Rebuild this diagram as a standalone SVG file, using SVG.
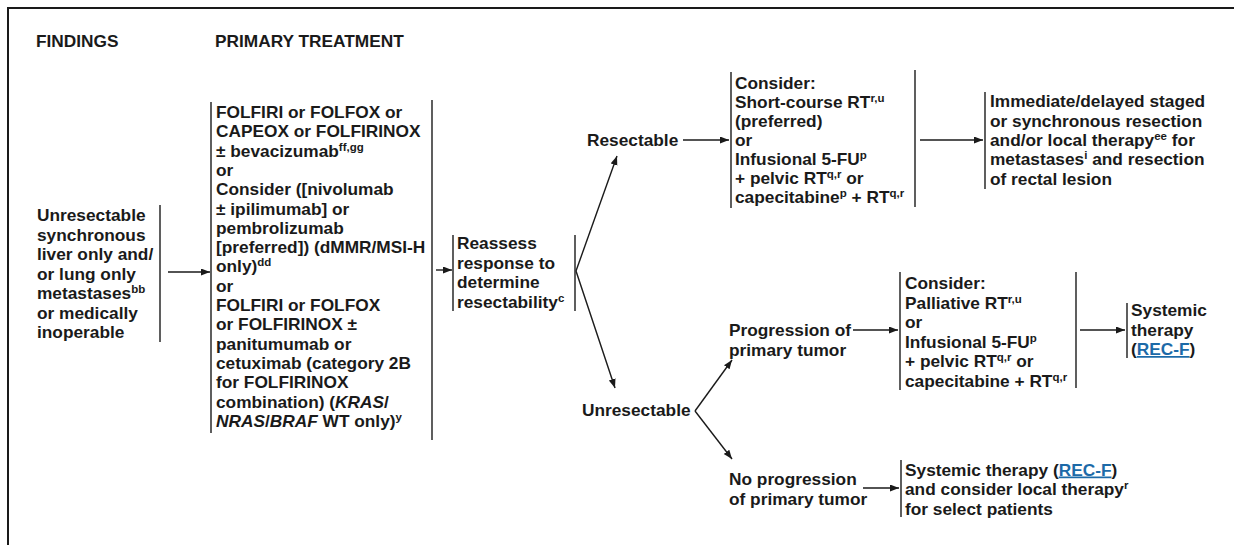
<svg xmlns="http://www.w3.org/2000/svg" width="1234" height="545" viewBox="0 0 1234 545">
<defs>
<style>
text{font-family:"Liberation Sans",Arial,Helvetica,sans-serif;font-weight:bold;font-size:17.3px;fill:#1a1a1a}
.s{font-size:11.5px}
.i{font-style:italic}
.lnk{fill:#1c6aa8;text-decoration:underline}
.bar{stroke:#1a1a1a;stroke-width:1.4;fill:none}
.frame{stroke:#1a1a1a;stroke-width:2;fill:none}
.c{stroke:#1a1a1a;stroke-width:1.4;fill:none;marker-end:url(#ah)}
</style>
<marker id="ah" markerUnits="userSpaceOnUse" markerWidth="10" markerHeight="8" refX="9" refY="3.5" orient="auto">
<path d="M0,0 L9,3.5 L0,7 z" fill="#1a1a1a"/>
</marker>
</defs>
<rect width="1234" height="545" fill="#ffffff"/>
<path class="frame" d="M8,545 V8 H1234"/>

<g id="headers">
<text x="36" y="47">FINDINGS</text>
<text x="215" y="47">PRIMARY TREATMENT</text>
</g>

<g id="findings">
<text x="37" y="221">Unresectable</text>
<text x="37" y="240.5">synchronous</text>
<text x="37" y="260">liver only and/</text>
<text x="37" y="279.5">or lung only</text>
<text x="37" y="299">metastases<tspan class="s" dy="-6">bb</tspan></text>
<text x="37" y="318.5">or medically</text>
<text x="37" y="338">inoperable</text>
<line class="bar" x1="160" y1="205" x2="160" y2="342"/>
</g>

<g id="primary-treatment">
<line class="bar" x1="211" y1="102" x2="211" y2="433"/>
<line class="bar" x1="432" y1="100" x2="432" y2="440"/>
<text x="216" y="118">FOLFIRI or FOLFOX or</text>
<text x="216" y="137.3">CAPEOX or FOLFIRINOX</text>
<text x="216" y="156.6">± bevacizumab<tspan class="s" dy="-6">ff,gg</tspan></text>
<text x="216" y="175.9">or</text>
<text x="216" y="195.2">Consider ([nivolumab</text>
<text x="216" y="214.5">± ipilimumab] or</text>
<text x="216" y="233.8">pembrolizumab</text>
<text x="216" y="253.1">[preferred]) (dMMR/MSI-H</text>
<text x="216" y="272.4">only)<tspan class="s" dy="-6">dd</tspan></text>
<text x="216" y="291.7">or</text>
<text x="216" y="311">FOLFIRI or FOLFOX</text>
<text x="216" y="330.3">or FOLFIRINOX ±</text>
<text x="216" y="349.6">panitumumab or</text>
<text x="216" y="368.9">cetuximab (category 2B</text>
<text x="216" y="388.2">for FOLFIRINOX</text>
<text x="216" y="407.5">combination) (<tspan class="i">KRAS</tspan>/</text>
<text x="216" y="426.8"><tspan class="i">NRAS</tspan>/<tspan class="i">BRAF</tspan> WT only)<tspan class="s" dy="-6">y</tspan></text>
</g>

<g id="reassess">
<line class="bar" x1="453" y1="235" x2="453" y2="311"/>
<line class="bar" x1="575" y1="235" x2="575" y2="311"/>
<text x="457" y="249">Reassess</text>
<text x="457" y="268.5">response to</text>
<text x="457" y="288">determine</text>
<text x="457" y="307.5">resectability<tspan class="s" dy="-6">c</tspan></text>
</g>

<g id="resectable">
<text x="587" y="146">Resectable</text>
</g>

<g id="resectable-rt">
<line class="bar" x1="731" y1="72" x2="731" y2="208"/>
<line class="bar" x1="915" y1="70" x2="915" y2="207"/>
<text x="735" y="89">Consider:</text>
<text x="735" y="108">Short-course RT<tspan class="s" dy="-6">r,u</tspan></text>
<text x="735" y="127">(preferred)</text>
<text x="735" y="146">or</text>
<text x="735" y="165">Infusional 5-FU<tspan class="s" dy="-6">p</tspan></text>
<text x="735" y="184">+ pelvic RT<tspan class="s" dy="-6">q,r</tspan><tspan dy="6"> or</tspan></text>
<text x="735" y="203">capecitabine<tspan class="s" dy="-6">p</tspan><tspan dy="6"> + RT</tspan><tspan class="s" dy="-6">q,r</tspan></text>
</g>

<g id="resection">
<line class="bar" x1="985" y1="92" x2="985" y2="189"/>
<text x="990" y="107.4">Immediate/delayed staged</text>
<text x="990" y="126.7">or synchronous resection</text>
<text x="990" y="146">and/or local therapy<tspan class="s" dy="-6">ee</tspan><tspan dy="6"> for</tspan></text>
<text x="990" y="165.3">metastases<tspan class="s" dy="-6">i</tspan><tspan dy="6"> and resection</tspan></text>
<text x="990" y="184.6">of rectal lesion</text>
</g>

<g id="unresectable">
<text x="582" y="416">Unresectable</text>
</g>

<g id="progression">
<text x="729" y="336">Progression of</text>
<text x="729" y="355.5">primary tumor</text>
</g>

<g id="palliative-rt">
<line class="bar" x1="900" y1="272" x2="900" y2="390"/>
<line class="bar" x1="1076" y1="272" x2="1076" y2="388"/>
<text x="905" y="289">Consider:</text>
<text x="905" y="308.5">Palliative RT<tspan class="s" dy="-6">r,u</tspan></text>
<text x="905" y="328">or</text>
<text x="905" y="347.5">Infusional 5-FU<tspan class="s" dy="-6">p</tspan></text>
<text x="905" y="367">+ pelvic RT<tspan class="s" dy="-6">q,r</tspan><tspan dy="6"> or</tspan></text>
<text x="905" y="386.5">capecitabine + RT<tspan class="s" dy="-6">q,r</tspan></text>
</g>

<g id="systemic-1">
<line class="bar" x1="1127" y1="303" x2="1127" y2="358"/>
<text x="1131" y="316">Systemic</text>
<text x="1131" y="335.5">therapy</text>
<text x="1131" y="355">(<tspan class="lnk">REC-F</tspan>)</text>
</g>

<g id="no-progression">
<text x="729" y="485">No progression</text>
<text x="729" y="504.5">of primary tumor</text>
</g>

<g id="systemic-2">
<line class="bar" x1="901" y1="460" x2="901" y2="517"/>
<text x="905" y="475.5">Systemic therapy (<tspan class="lnk">REC-F</tspan>)</text>
<text x="905" y="495">and consider local therapy<tspan class="s" dy="-6">r</tspan></text>
<text x="905" y="514.5">for select patients</text>
</g>

<g id="connectors">
<line class="c" x1="168" y1="272" x2="210" y2="272"/>
<line class="c" x1="436" y1="270" x2="452" y2="270"/>
<line class="c" x1="576" y1="271" x2="617" y2="156"/>
<line class="c" x1="576" y1="271" x2="615" y2="388"/>
<line class="c" x1="683" y1="140" x2="729" y2="140"/>
<line class="c" x1="920" y1="140" x2="983" y2="140"/>
<line class="c" x1="695" y1="411" x2="732" y2="360"/>
<line class="c" x1="695" y1="411" x2="732" y2="459"/>
<line class="c" x1="853" y1="330" x2="898" y2="330"/>
<line class="c" x1="1080" y1="330" x2="1125" y2="330"/>
<line class="c" x1="863" y1="488" x2="899" y2="488"/>
</g>
</svg>
